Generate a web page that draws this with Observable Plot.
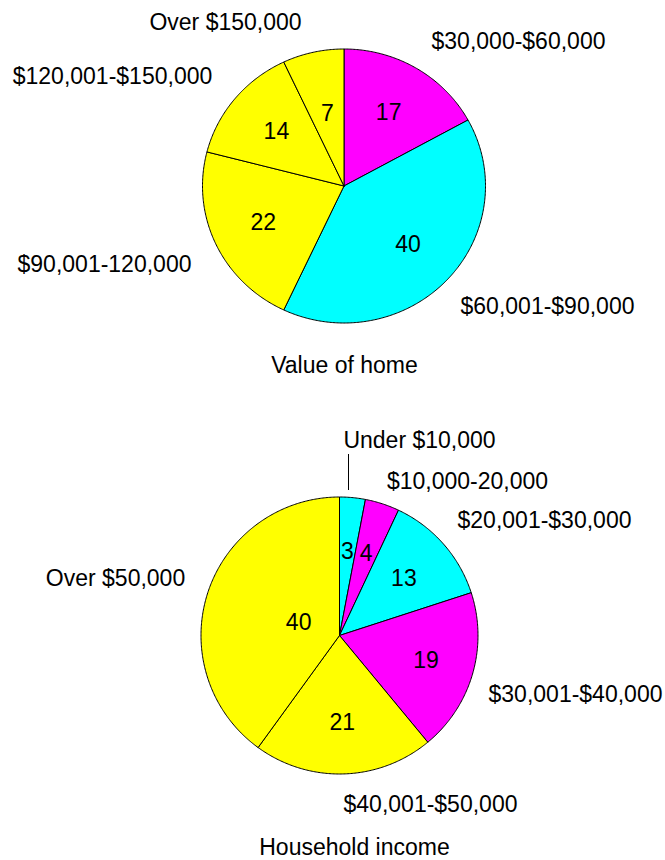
<!DOCTYPE html>
<html>
<head>
<meta charset="utf-8">
<script src="https://cdn.jsdelivr.net/npm/d3@7"></script>
<script src="https://cdn.jsdelivr.net/npm/@observablehq/plot@0.6"></script>
<style>
  html, body { margin: 0; padding: 0; background: #ffffff; }
  #chart svg { display: block; }
</style>
</head>
<body>
<div id="chart"></div>
<script>
// ---- Data ----
const homeLabels = ["$30,000-$60,000", "$60,001-$90,000", "$90,001-120,000", "$120,001-$150,000", "Over $150,000"];
const homeValues = [17, 40, 22, 14, 7];
const homeColors = ["#ff00ff", "#00ffff", "#ffff00", "#ffff00", "#ffff00"];

const incomeLabels = ["Under $10,000", "$10,000-20,000", "$20,001-$30,000", "$30,001-$40,000", "$40,001-$50,000", "Over $50,000"];
const incomeValues = [3, 4, 13, 19, 21, 40];
const incomeColors = ["#00ffff", "#ff00ff", "#00ffff", "#ff00ff", "#ffff00", "#ffff00"];

const titles = ["Value of home", "Household income"];

// ---- Layout (positions only) ----
const W = 665, H = 860;
const FONT = "Liberation Sans, Arial, Helvetica, sans-serif";
const FS = 23;
const homeLabelPos = [[518, 41], [547, 306], [104, 264], [112, 76], [225, 22]];
const homeInnerR = [0.62, 0.62, 0.63, 0.62, 0.54];
const incomeLabelPos = [[419, 440], [467, 481], [544, 520], [575, 694], [430, 804], [115, 578]];
const incomeInnerR = [0.61, 0.62, 0.62, 0.65, 0.63, 0.31];

const pies = [
  {key: "home", labels: homeLabels, values: homeValues, colors: homeColors,
   cx: 343.5, cy: 185.5, rx: 141.5, ry: 137, labelPos: homeLabelPos, innerR: homeInnerR,
   title: titles[0], titlePos: [344, 365]},
  {key: "income", labels: incomeLabels, values: incomeValues, colors: incomeColors,
   cx: 339, cy: 635, rx: 138.5, ry: 138.5, labelPos: incomeLabelPos, innerR: incomeInnerR,
   title: titles[1], titlePos: [354, 847]}
];

const slicePts = [];
const numberLabels = [];
const outerLabels = [];
const titleLabels = [];
for (const p of pies) {
  const arcs = d3.pie().sort(null).value(d => d)(p.values);
  arcs.forEach((a, i) => {
    const key = p.key + "-" + i;
    const fill = p.colors[i];
    const n = Math.max(4, Math.ceil((a.endAngle - a.startAngle) / 0.01));
    slicePts.push({key, fill, x: p.cx, y: p.cy});
    for (let k = 0; k <= n; k++) {
      const t = a.startAngle + (a.endAngle - a.startAngle) * k / n;
      slicePts.push({key, fill, x: p.cx + p.rx * Math.sin(t), y: p.cy - p.ry * Math.cos(t)});
    }
    slicePts.push({key, fill, x: p.cx, y: p.cy});
    const mid = (a.startAngle + a.endAngle) / 2;
    numberLabels.push({
      text: String(p.values[i]),
      x: p.cx + p.rx * p.innerR[i] * Math.sin(mid),
      y: p.cy - p.ry * p.innerR[i] * Math.cos(mid)
    });
    outerLabels.push({text: p.labels[i], x: p.labelPos[i][0], y: p.labelPos[i][1]});
  });
  titleLabels.push({text: p.title, x: p.titlePos[0], y: p.titlePos[1]});
}

// leader line for the smallest income slice ("Under $10,000")
const leader = [{x: 348, y1: 454, y2: 490}];

const chart = Plot.plot({
  width: W,
  height: H,
  margin: 0,
  x: {domain: [0, W], range: [0, W], axis: null},
  y: {domain: [0, H], range: [0, H], axis: null},
  color: {type: "identity"},
  style: {fontFamily: FONT, background: "#ffffff"},
  marks: [
    Plot.line(slicePts, {x: "x", y: "y", z: "key", fill: "fill", stroke: "#000000", strokeWidth: 1, strokeLinejoin: "round"}),
    Plot.ruleX(leader, {x: "x", y1: "y1", y2: "y2", stroke: "#000000", strokeWidth: 1}),
    Plot.text(numberLabels, {x: "x", y: "y", text: "text", fontSize: FS, fill: "#000000"}),
    Plot.text(outerLabels, {x: "x", y: "y", text: "text", fontSize: FS, fill: "#000000"}),
    Plot.text(titleLabels, {x: "x", y: "y", text: "text", fontSize: FS, fill: "#000000"})
  ]
});
document.getElementById("chart").appendChild(chart);
</script>
</body>
</html>
